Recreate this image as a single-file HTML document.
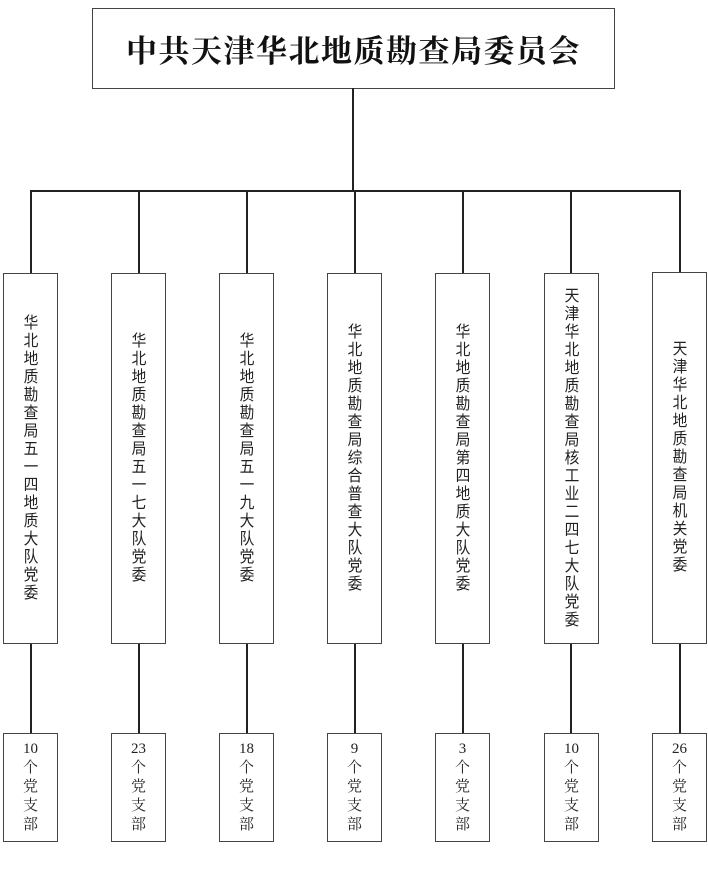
<!DOCTYPE html>
<html><head><meta charset="utf-8"><style>
body{margin:0;width:708px;height:876px;background:#fff;position:relative;overflow:hidden;font-family:"Liberation Serif","Noto Serif CJK SC",serif;}
.b{position:absolute;border:1.5px solid #444;box-sizing:border-box;background:#fff;display:flex;align-items:center;justify-content:center;}
.t{width:18px;text-align:center;font-size:16px;line-height:18px;color:#222;word-break:break-all;font-family:"Liberation Sans","Noto Sans CJK SC",sans-serif;transform:scaleX(0.92);}
.s{text-align:center;font-size:15px;line-height:19px;color:#222;}
.l{position:absolute;background:#222;}
</style></head><body>
<div class="b" style="left:92px;top:8px;width:523px;height:81px;">
<span style="font-family:'Liberation Serif','Noto Serif CJK SC',serif;font-weight:bold;font-size:31px;letter-spacing:1.5px;color:#111;">中共天津华北地质勘查局委员会</span></div>
<div class="l" style="left:352px;top:88px;width:1.5px;height:103px;"></div>
<div class="l" style="left:30px;top:190px;width:650px;height:1.5px;"></div>

<div class="l" style="left:30px;top:190px;width:1.5px;height:84px;"></div>
<div class="l" style="left:138px;top:190px;width:1.5px;height:84px;"></div>
<div class="l" style="left:246px;top:190px;width:1.5px;height:84px;"></div>
<div class="l" style="left:354px;top:190px;width:1.5px;height:84px;"></div>
<div class="l" style="left:462px;top:190px;width:1.5px;height:84px;"></div>
<div class="l" style="left:570px;top:190px;width:1.5px;height:84px;"></div>
<div class="l" style="left:679px;top:190px;width:1.5px;height:84px;"></div>

<div class="l" style="left:30px;top:642px;width:1.5px;height:92px;"></div>
<div class="l" style="left:138px;top:642px;width:1.5px;height:92px;"></div>
<div class="l" style="left:246px;top:642px;width:1.5px;height:92px;"></div>
<div class="l" style="left:354px;top:642px;width:1.5px;height:92px;"></div>
<div class="l" style="left:462px;top:642px;width:1.5px;height:92px;"></div>
<div class="l" style="left:570px;top:642px;width:1.5px;height:92px;"></div>
<div class="l" style="left:679px;top:642px;width:1.5px;height:92px;"></div>

<div class="b" style="left:3px;top:273px;width:55px;height:371px;"><div class="t">华北地质勘查局五一四地质大队党委</div></div>
<div class="b" style="left:111px;top:273px;width:55px;height:371px;"><div class="t">华北地质勘查局五一七大队党委</div></div>
<div class="b" style="left:219px;top:273px;width:55px;height:371px;"><div class="t">华北地质勘查局五一九大队党委</div></div>
<div class="b" style="left:327px;top:273px;width:55px;height:371px;"><div class="t">华北地质勘查局综合普查大队党委</div></div>
<div class="b" style="left:435px;top:273px;width:55px;height:371px;"><div class="t">华北地质勘查局第四地质大队党委</div></div>
<div class="b" style="left:544px;top:273px;width:55px;height:371px;"><div class="t">天津华北地质勘查局核工业二四七大队党委</div></div>
<div class="b" style="left:652px;top:272px;width:55px;height:372px;"><div class="t">天津华北地质勘查局机关党委</div></div>

<div class="b" style="left:3px;top:733px;width:55px;height:109px;"><div class="s">10<br>个<br>党<br>支<br>部</div></div>
<div class="b" style="left:111px;top:733px;width:55px;height:109px;"><div class="s">23<br>个<br>党<br>支<br>部</div></div>
<div class="b" style="left:219px;top:733px;width:55px;height:109px;"><div class="s">18<br>个<br>党<br>支<br>部</div></div>
<div class="b" style="left:327px;top:733px;width:55px;height:109px;"><div class="s">9<br>个<br>党<br>支<br>部</div></div>
<div class="b" style="left:435px;top:733px;width:55px;height:109px;"><div class="s">3<br>个<br>党<br>支<br>部</div></div>
<div class="b" style="left:544px;top:733px;width:55px;height:109px;"><div class="s">10<br>个<br>党<br>支<br>部</div></div>
<div class="b" style="left:652px;top:733px;width:55px;height:109px;"><div class="s">26<br>个<br>党<br>支<br>部</div></div>
</body></html>
